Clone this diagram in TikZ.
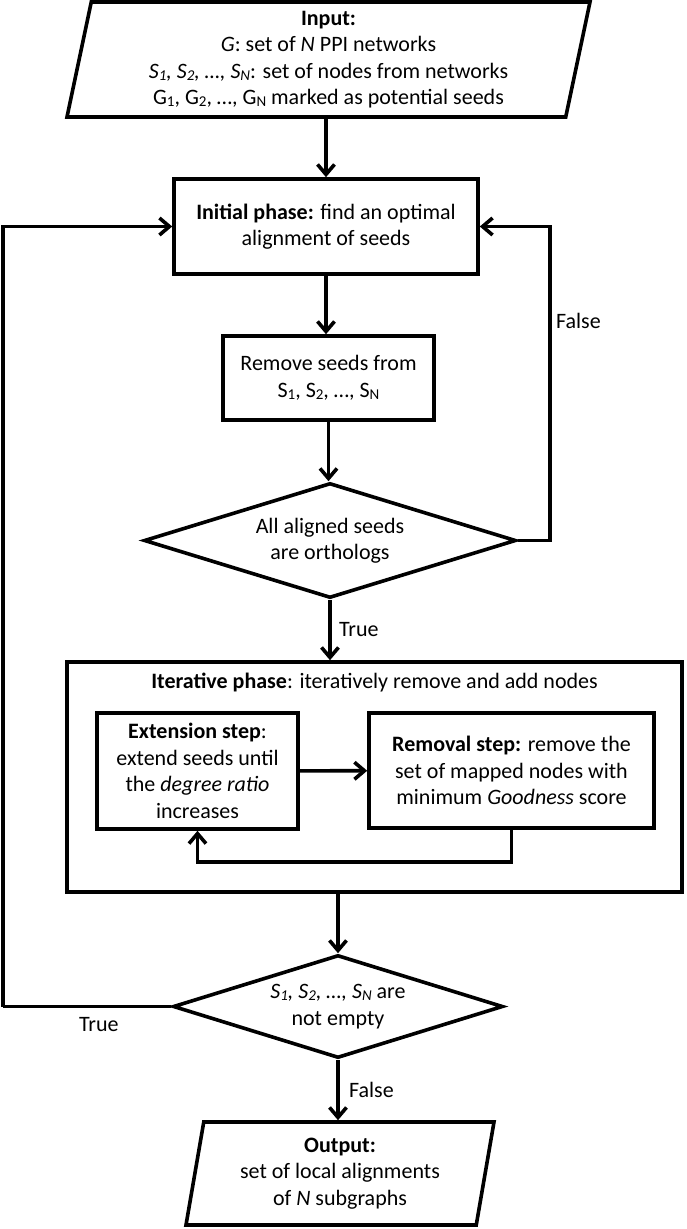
\documentclass[tikz,border=0pt]{standalone}
\usepackage{fontspec}
\setmainfont{Carlito}
\usetikzlibrary{arrows.meta, shapes.geometric, calc}

\newcommand{\idx}[1]{\raisebox{-0.2ex}{\fontsize{15}{15}\selectfont #1}}

\begin{document}
\begin{tikzpicture}[x=1pt, y=-1pt, line width=3.6pt,
        font=\fontsize{22}{26.5}\selectfont,
        box/.style={draw, rectangle, align=center, inner sep=0pt},
        io/.style={draw, trapezium, trapezium left angle=76, trapezium right angle=104,
            trapezium stretches body, align=center, inner sep=0pt},
        test/.style={draw, diamond, aspect=3.2, align=center, inner sep=-4pt},
        flow/.style={-{Straight Barb[length=10pt,width=17pt]}}]
        \useasboundingbox (0,0) rectangle (686,1229);

        % upper column
        \node[io, minimum width=523pt, minimum height=115pt] (input) at (328.5,59.5)
            {\textbf{Input:}\\ \textit{G}: set of \textit{N} PPI networks\\
             \textit{S\idx{1}, S\idx{2}, …, S\idx{N}}: set of nodes from networks\\
             G\idx{1}, G\idx{2}, …, G\idx{N} marked as potential seeds};
        \node[box, minimum width=304pt, minimum height=95pt] (initial) at (326,226.5)
            {\textbf{Initial phase:} find an optimal\\alignment of seeds};
        \node[box, minimum width=211pt, minimum height=84pt] (remove) at (328.5,378)
            {Remove seeds from\\S\idx{1}, S\idx{2}, …, S\idx{N}};
        \node[test, minimum width=372pt, minimum height=115pt] (check1) at (330,540.5)
            {All aligned seeds\\are orthologs};

        % iterative phase
        \node[box, minimum width=615pt, minimum height=230pt] (iter) at (374.5,777) {};
        \node (itertitle) at (374.5,683)
            {\textbf{Iterative phase}: iteratively remove and add nodes};
        \node[box, minimum width=201pt, minimum height=116pt] (extend) at (197.5,771)
            {\textbf{Extension step}:\\extend seeds until\\the \textit{degree ratio}\\increases};
        \node[box, minimum width=285pt, minimum height=115pt] (removal) at (511.5,770.5)
            {\textbf{Removal step:} remove the\\set of mapped nodes with\\minimum \textit{Goodness} score};

        % lower column
        \node[test, minimum width=330pt, minimum height=103pt] (check2) at (338,1006.5)
            {\textit{S\idx{1}, S\idx{2}, …, S\idx{N}} are\\not empty};
        \node[io, minimum width=308pt, minimum height=103pt] (output) at (340,1173.5)
            {\textbf{Output:}\\set of local alignments\\of \textit{N} subgraphs};

        \coordinate (falseturn) at (550,0);
        \coordinate (trueturn) at (3,0);

        % connectors
        \draw[flow] (input.south -| initial) -- (initial);
        \draw[flow] (initial) -- (initial |- remove.north);
        \draw[flow] (remove) -- (remove |- check1.north);
        \draw[flow] (check1.east) -- (check1.east -| falseturn)
            |- node[pos=0.35, right, xshift=1pt] {False} (initial.east);
        \draw[flow] (check1.south) -- node[right, xshift=4pt] {True} (check1.south |- iter.north);
        \draw[flow] (extend) -- (removal);
        \draw[flow] (removal.south) -- ++(0,32) -| (extend.south);
        \draw[flow] (check2 |- iter.south) -- (check2.north);
        \draw (check2.west) -- node[pos=0.43, below, yshift=-6pt] {True} (check2.west -| trueturn);
        \draw[flow] (check2.west -| trueturn) |- (initial.west);
        \draw[flow] (check2.south) -- node[right, xshift=6pt] {False} (check2.south |- output.north);
\end{tikzpicture}
\end{document}
